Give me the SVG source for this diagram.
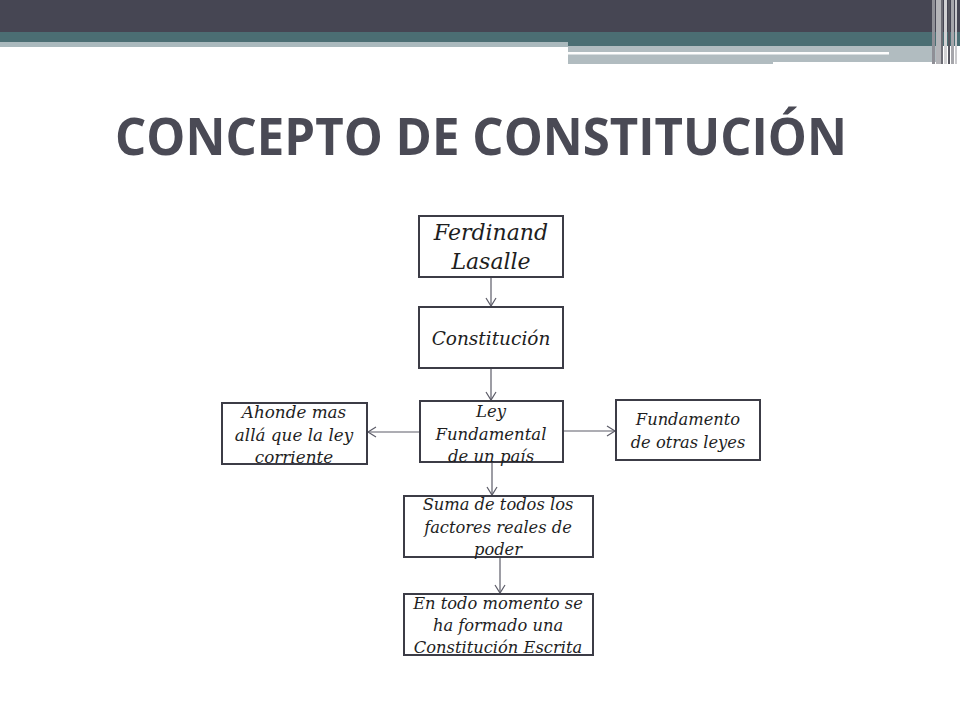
<svg xmlns="http://www.w3.org/2000/svg" width="960" height="720" viewBox="0 0 960 720">
<style>
.box{fill:#fff;stroke:#3c3c46;stroke-width:2}
.t{font-family:"DejaVu Serif","Liberation Serif",serif;font-style:italic;fill:#1e1e1e;text-anchor:middle}
.c{stroke:#5c5c68;stroke-width:1.2;fill:none}
</style>
<defs>
<marker id="ah" markerWidth="12" markerHeight="12" refX="10" refY="6" orient="auto" markerUnits="userSpaceOnUse">
<path d="M2,1 L10,6 L2,11" fill="none" stroke="#5c5c68" stroke-width="1.2"/>
</marker>
</defs>
<rect width="960" height="720" fill="#fff"/>
<g id="banner">
<rect x="0" y="0" width="960" height="32" fill="#464653"/>
<rect x="0" y="32" width="568" height="10" fill="#4b6e73"/>
<rect x="0" y="42" width="568" height="5" fill="#aab9bd"/>
<rect x="568" y="32" width="392" height="14" fill="#4b6e73"/>
<rect x="568" y="46" width="372" height="16" fill="#b1bcc0"/>
<rect x="568" y="62" width="205" height="2" fill="#b1bcc0"/>
<rect x="568" y="52" width="321" height="2.5" fill="#fdfdfd"/>
<rect x="932" y="0" width="3" height="64" fill="#8f8f96"/>
<rect x="936" y="0" width="5" height="64" fill="#b4b4b8"/>
<rect x="941" y="0" width="2" height="64" fill="#6c6c74"/>
<rect x="944" y="0" width="3" height="64" fill="#d2d2d4"/>
<rect x="948" y="0" width="2" height="64" fill="#55555e"/>
<rect x="951" y="0" width="3" height="64" fill="#a6a6ab"/>
<rect x="955" y="0" width="2" height="64" fill="#c9c9cc"/>
</g>
<text id="title" x="115" y="155" font-family="'Open Sans','DejaVu Sans',sans-serif" font-weight="bold" font-size="52" fill="#4a4a55" textLength="732" lengthAdjust="spacingAndGlyphs">CONCEPTO DE CONSTITUCIÓN</text>
<g id="connectors">
<line class="c" x1="491" y1="277" x2="491" y2="306" marker-end="url(#ah)"/>
<line class="c" x1="491" y1="368" x2="491" y2="400" marker-end="url(#ah)"/>
<line class="c" x1="420" y1="432" x2="368" y2="432" marker-end="url(#ah)"/>
<line class="c" x1="563" y1="431" x2="615" y2="431" marker-end="url(#ah)"/>
<line class="c" x1="492" y1="462" x2="492" y2="495" marker-end="url(#ah)"/>
<line class="c" x1="500" y1="557" x2="500" y2="593" marker-end="url(#ah)"/>
</g>
<g id="n1">
<rect class="box" x="419" y="216" width="144" height="61"/>
<text class="t" font-size="22" x="491" y="240">Ferdinand</text>
<text class="t" font-size="22" x="491" y="269">Lasalle</text>
</g>
<g id="n2">
<rect class="box" x="419" y="307" width="144" height="61"/>
<text class="t" font-size="18.5" x="491" y="345">Constitución</text>
</g>
<g id="n3">
<rect class="box" x="420" y="401" width="143" height="61"/>
<text class="t" font-size="16.5" x="491" y="417">Ley</text>
<text class="t" font-size="16.5" x="491" y="440">Fundamental</text>
<text class="t" font-size="16.5" x="491" y="462">de un país</text>
</g>
<g id="n4">
<rect class="box" x="222" y="403" width="145" height="61"/>
<text class="t" font-size="16.8" x="294" y="418">Ahonde mas</text>
<text class="t" font-size="16.8" x="294" y="441">allá que la ley</text>
<text class="t" font-size="16.8" x="294" y="463">corriente</text>
</g>
<g id="n5">
<rect class="box" x="616" y="400" width="144" height="60"/>
<text class="t" font-size="16.3" x="688" y="425">Fundamento</text>
<text class="t" font-size="16.3" x="688" y="448">de otras leyes</text>
</g>
<g id="n6">
<rect class="box" x="404" y="496" width="189" height="61"/>
<text class="t" font-size="16.3" x="498" y="510">Suma de todos los</text>
<text class="t" font-size="16.3" x="498" y="533">factores reales de</text>
<text class="t" font-size="16.3" x="498" y="555">poder</text>
</g>
<g id="n7">
<rect class="box" x="404" y="594" width="189" height="61"/>
<text class="t" font-size="16.3" x="498" y="609">En todo momento se</text>
<text class="t" font-size="16.3" x="498" y="631">ha formado una</text>
<text class="t" font-size="16.3" x="498" y="653">Constitución Escrita</text>
</g>
</svg>
